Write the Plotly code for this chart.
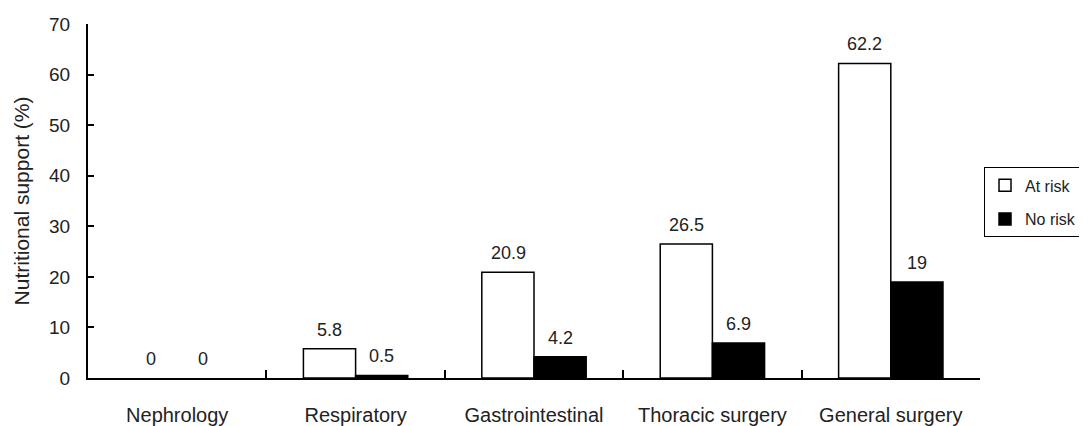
import plotly.graph_objects as go

categories = ["Nephrology", "Respiratory", "Gastrointestinal", "Thoracic surgery", "General surgery"]
at_risk = [0, 5.8, 20.9, 26.5, 62.2]
no_risk = [0, 0.5, 4.2, 6.9, 19]
series_names = ["At risk", "No risk"]
y_ticks = [0, 10, 20, 30, 40, 50, 60, 70]

FONT = "Liberation Sans, Arial, sans-serif"
fills = ["white", "black"]
groups = ["a", "b"]


def outline_widths(vals):
    return [0 if v == 0 else 1.5 for v in vals]


fig = go.Figure()
for vals, name, fill, grp in zip((at_risk, no_risk), series_names, fills, groups):
    fig.add_trace(go.Bar(x=categories, y=vals, name=name, showlegend=False, offsetgroup=grp,
                         marker=dict(color=fill, line=dict(color="black", width=outline_widths(vals)))))
# legend entries (share the offset group so they take no extra slot)
for name, fill, grp in zip(series_names, fills, groups):
    fig.add_trace(go.Bar(x=[categories[0]], y=[None], name=name, showlegend=True,
                         legendgroup=name, offsetgroup=grp,
                         marker=dict(color=fill, line=dict(color="black", width=1.5))))

annotations = []
for vals, shift in ((at_risk, -26), (no_risk, 26)):
    for c, v in zip(categories, vals):
        annotations.append(dict(x=c, y=v, text=f"{v:g}", showarrow=False,
                                xanchor="center", yanchor="bottom",
                                xshift=shift, yshift=7,
                                font=dict(family=FONT, size=18, color="#222")))

# page body has an 8px margin, so the figure is offset by (8, 8)
fig.update_layout(
    width=1079, height=418,
    margin=dict(l=80, r=107, t=16, b=48, autoexpand=False),
    paper_bgcolor="white", plot_bgcolor="white",
    barmode="group", bargap=0.415, bargroupgap=0,
    font=dict(family=FONT, size=18, color="#222"),
    annotations=annotations,
    legend=dict(x=1.0045, xanchor="left", y=0.595, yanchor="top",
                bordercolor="black", borderwidth=1, bgcolor="white",
                tracegroupgap=10, traceorder="grouped",
                font=dict(family=FONT, size=16, color="#222"),
                itemwidth=30),
    showlegend=True,
)
fig.update_xaxes(
    automargin=False,
    showline=True, linecolor="black", linewidth=2,
    ticks="inside", tickson="boundaries", ticklen=8, tickwidth=2, tickcolor="black",
    showgrid=False, tickfont=dict(size=20), ticklabelstandoff=18,
)
fig.update_yaxes(
    automargin=False,
    range=[0, 70], tickvals=y_ticks, showline=True, linecolor="black", linewidth=2,
    ticks="inside", ticklen=6, tickwidth=2, tickcolor="black",
    showgrid=False, zeroline=False, tickfont=dict(size=19), ticklabelstandoff=12,
    title=dict(text="Nutritional support (%)", font=dict(size=21), standoff=14),
)

fig.write_html("out.html")
